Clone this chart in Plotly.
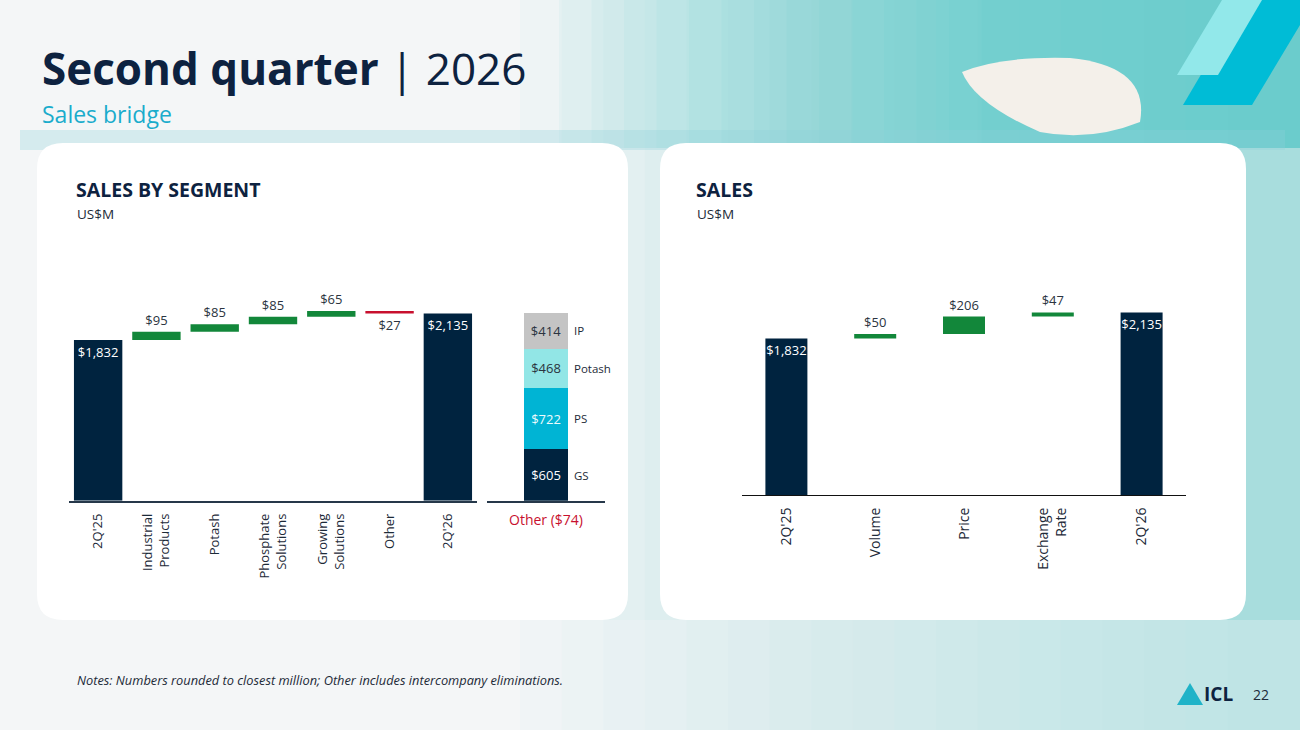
import numpy as np
import plotly.graph_objects as go

# ---- data -------------------------------------------------------------
seg_cats = ["2Q'25", "Industrial<br>Products", "Potash", "Phosphate<br>Solutions",
            "Growing<br>Solutions", "Other", "2Q'26"]
seg_values = [1832, 95, 85, 85, 65, -27, 2135]
seg_measure = ["absolute", "relative", "relative", "relative", "relative", "relative", "total"]

mix_names = ["GS", "PS", "Potash", "IP"]
mix_values = [605, 722, 468, 414]
other_elim = -74

drv_cats = ["2Q'25", "Volume", "Price", "Exchange<br>Rate", "2Q'26"]
drv_values = [1832, 50, 206, 47, 2135]
drv_measure = ["absolute", "relative", "relative", "relative", "total"]

# ---- colours ----------------------------------------------------------
NAVY = "#00233f"
GREEN = "#12873a"
RED = "#c8102e"
TEXT = "#1d2a38"
mix_colors = ["#00233f", "#00b4d4", "#92e6e6", "#c4c4c4"]
mix_text = ["white", "#eefbfd", "#2b3440", "#2b3440"]

W, H = 1300, 730


def px(x):
    return x / W


def py(y):
    return 1 - y / H


def money(v):
    return f"${abs(v):,}"


fig = go.Figure()

# left waterfall
fig.add_trace(go.Waterfall(
    x=seg_cats, y=seg_values, measure=seg_measure,
    text=[money(v) for v in seg_values],
    textposition=["inside"] + ["outside"] * 5 + ["inside"],
    insidetextanchor="end", textangle=0,
    insidetextfont=dict(color="white", size=13),
    outsidetextfont=dict(color="#2b3440", size=13),
    increasing=dict(marker=dict(color=GREEN)),
    decreasing=dict(marker=dict(color=RED)),
    totals=dict(marker=dict(color=NAVY)),
    connector=dict(visible=False),
    width=0.83, cliponaxis=False,
    xaxis="x", yaxis="y", showlegend=False,
))

# segment mix of 2Q'26 (stacked)
other_label = f"Other (${abs(other_elim)})"
for name, val, col, tc in zip(mix_names, mix_values, mix_colors, mix_text):
    fig.add_trace(go.Bar(
        x=[other_label], y=[val], name=name,
        marker=dict(color=col, line=dict(width=0)),
        text=[money(val)], textposition="inside", insidetextanchor="middle",
        textangle=0, textfont=dict(color=tc, size=13),
        width=0.38, xaxis="x2", yaxis="y2", showlegend=False,
    ))

mids = np.cumsum(mix_values) - np.array(mix_values) / 2
for name, m in zip(mix_names, mids):
    fig.add_annotation(x=other_label, y=m, xref="x2", yref="y2", text=name,
                       showarrow=False, xanchor="left", xshift=26,
                       font=dict(size=11.5, color=TEXT))

# right waterfall
fig.add_trace(go.Waterfall(
    x=drv_cats, y=drv_values, measure=drv_measure,
    text=[money(v) for v in drv_values],
    textposition=["inside"] + ["outside"] * 3 + ["inside"],
    insidetextanchor="end", textangle=0,
    insidetextfont=dict(color="white", size=13),
    outsidetextfont=dict(color="#2b3440", size=13),
    increasing=dict(marker=dict(color=GREEN)),
    decreasing=dict(marker=dict(color=RED)),
    totals=dict(marker=dict(color=NAVY)),
    connector=dict(visible=False),
    width=0.473, cliponaxis=False,
    xaxis="x3", yaxis="y3", showlegend=False,
))

# ---- axes -------------------------------------------------------------
Y_TOP = 2402
end_total = seg_values[-1]
tick_font = dict(size=13, color=TEXT)

fig.update_layout(
    xaxis=dict(domain=[px(69), px(477)], range=[-0.5, len(seg_cats) - 0.5],
               showline=True, linecolor="#26384a", linewidth=1.5,
               tickangle=-90, tickfont=tick_font, showgrid=False, zeroline=False,
               ticklabelstandoff=6),
    yaxis=dict(domain=[py(500.7), py(290)], range=[0, Y_TOP], visible=False),
    xaxis2=dict(domain=[px(487), px(605)], range=[-0.5, 0.5],
                showline=True, linecolor="#26384a", linewidth=1.5,
                tickangle=0, tickfont=dict(size=14, color=RED), showgrid=False,
                ticklabelstandoff=6, anchor="y2"),
    yaxis2=dict(domain=[py(500.7), py(290)], anchor="x2",
                range=[0, Y_TOP * sum(mix_values) / end_total], visible=False),
    xaxis3=dict(domain=[px(742), px(1186)], range=[-0.5, len(drv_cats) - 0.5],
                showline=True, linecolor="#111111", linewidth=1,
                tickangle=-90, tickfont=dict(size=14, color=TEXT), showgrid=False,
                ticklabelstandoff=6, anchor="y3"),
    yaxis3=dict(domain=[py(495), py(290)], anchor="x3", range=[0, 2398], visible=False),
    barmode="stack",
    uniformtext=dict(mode="show", minsize=13),
    width=W, height=H, margin=dict(l=0, r=0, t=0, b=0),
    paper_bgcolor="#f4f6f7", plot_bgcolor="rgba(0,0,0,0)",
    font=dict(family="Open Sans, Noto Sans, sans-serif", color=TEXT),
)

# ---- slide background -------------------------------------------------
shapes = []
# soft aqua sea fading in toward the right
for i in range(18):
    x0 = 0.40 + i * 0.032
    shapes.append(dict(type="rect", xref="paper", yref="paper", x0=x0, x1=1, y0=0, y1=1,
                       fillcolor="#6fd0d8", opacity=0.045, line=dict(width=0), layer="below"))
# deeper water along the top
for i in range(14):
    x0 = 0.43 + i * 0.025
    shapes.append(dict(type="rect", xref="paper", yref="paper", x0=x0, x1=1, y0=py(148), y1=1,
                       fillcolor="#3fbcc8", opacity=0.05, line=dict(width=0), layer="below"))
shapes.append(dict(type="rect", xref="paper", yref="paper", x0=0, x1=1, y0=0, y1=py(620),
                   fillcolor="#f4f6f7", opacity=0.3, line=dict(width=0), layer="below"))
# dotted band under the header
shapes.append(dict(type="rect", xref="paper", yref="paper", x0=px(20), x1=px(1285),
                   y0=py(150), y1=py(130), fillcolor="#8fd0da", opacity=0.3,
                   line=dict(width=0), layer="below"))
# sand island
shapes.append(dict(type="path", xref="paper", yref="paper", layer="below",
                   path=(f"M {px(962)},{py(72)} Q {px(1000)},{py(56)} {px(1070)},{py(58)} "
                         f"Q {px(1150)},{py(66)} {px(1140)},{py(122)} "
                         f"Q {px(1090)},{py(142)} {px(1040)},{py(132)} "
                         f"Q {px(975)},{py(104)} {px(962)},{py(72)} Z"),
                   fillcolor="#f4f0ea", line=dict(width=0)))
# corner stripes
shapes.append(dict(type="path", xref="paper", yref="paper", layer="below",
                   path=(f"M {px(1245)},{py(0)} L {px(1300)},{py(0)} L {px(1300)},{py(25)} "
                         f"L {px(1252)},{py(105)} L {px(1183)},{py(105)} Z"),
                   fillcolor="#00bcd6", line=dict(width=0)))
shapes.append(dict(type="path", xref="paper", yref="paper", layer="below",
                   path=(f"M {px(1222)},{py(0)} L {px(1262)},{py(0)} L {px(1218)},{py(75)} "
                         f"L {px(1177)},{py(75)} Z"),
                   fillcolor="#92e8ea", line=dict(width=0)))


def card(x0, y0, x1, y1, r=26):
    p = (f"M {px(x0 + r)},{py(y0)} L {px(x1 - r)},{py(y0)} "
         f"Q {px(x1)},{py(y0)} {px(x1)},{py(y0 + r)} L {px(x1)},{py(y1 - r)} "
         f"Q {px(x1)},{py(y1)} {px(x1 - r)},{py(y1)} L {px(x0 + r)},{py(y1)} "
         f"Q {px(x0)},{py(y1)} {px(x0)},{py(y1 - r)} L {px(x0)},{py(y0 + r)} "
         f"Q {px(x0)},{py(y0)} {px(x0 + r)},{py(y0)} Z")
    return dict(type="path", xref="paper", yref="paper", path=p, layer="below",
                fillcolor="white", line=dict(width=0))


shapes.append(card(37, 143, 628, 620))
shapes.append(card(660, 143, 1246, 620))
# logo mark
shapes.append(dict(type="path", xref="paper", yref="paper",
                   path=f"M {px(1190)},{py(683)} L {px(1203)},{py(705)} L {px(1177)},{py(705)} Z",
                   fillcolor="#1fb3c8", line=dict(width=0)))
fig.update_layout(shapes=shapes)

# ---- text -------------------------------------------------------------
def note(x, y, text, size, color=TEXT, **kw):
    fig.add_annotation(x=px(x), y=py(y), xref="paper", yref="paper", text=text,
                       showarrow=False, xanchor="left", yanchor="middle",
                       font=dict(size=size, color=color), **kw)


note(40, 68, "<b>Second quarter</b> | 2026", 44, "#0d2240")
note(40, 114, "Sales bridge", 23, "#1aaccc")
note(74, 190, "<b>SALES BY SEGMENT</b>", 19.5, "#0d2240")
note(75, 214, "US$M", 13.5)
note(694, 190, "<b>SALES</b>", 19.5, "#0d2240")
note(695, 214, "US$M", 13.5)
note(75, 680, "<i>Notes: Numbers rounded to closest million; Other includes intercompany eliminations.</i>", 12.8)
note(1202, 694, "<b>ICL</b>", 19, "#0d2240")
note(1251, 694, "22", 14)

fig.write_html("out.html", post_script="document.body.style.margin='0';",
               config={"displayModeBar": False})
